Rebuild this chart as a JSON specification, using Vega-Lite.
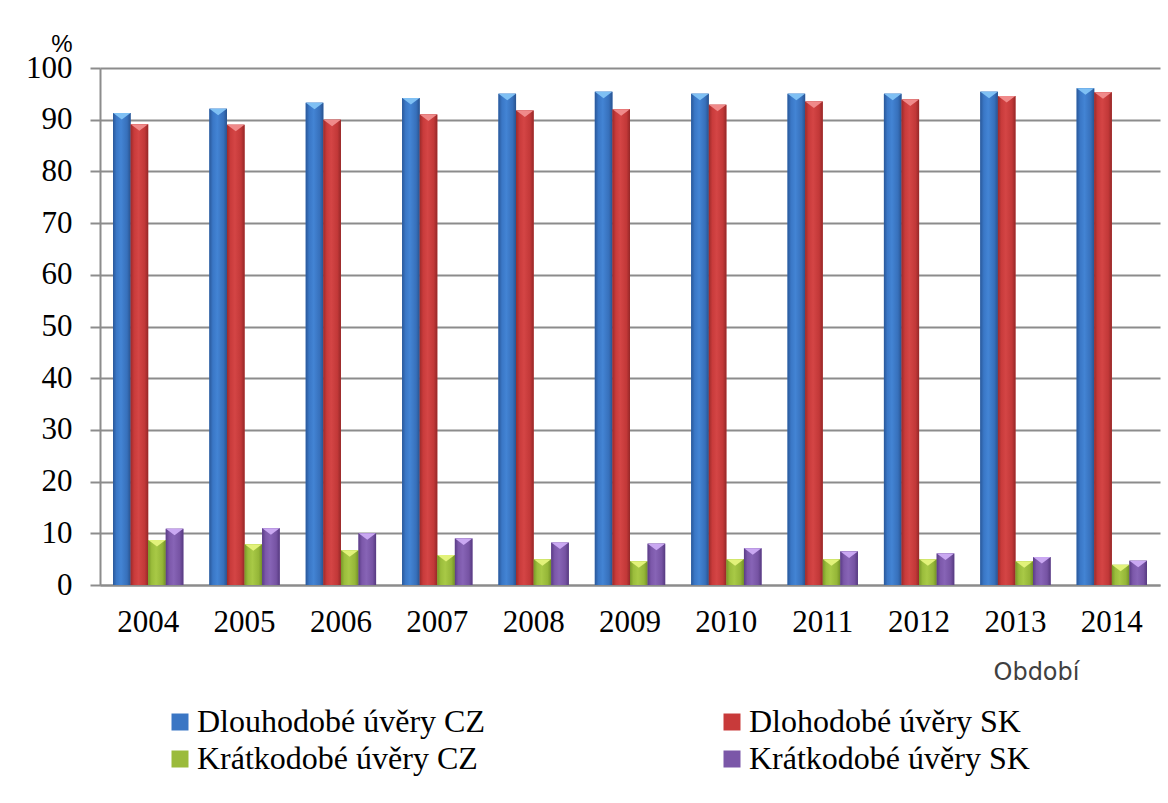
{
  "$schema": "https://vega.github.io/schema/vega-lite/v6.json",
  "width": 1060,
  "height": 517,
  "autosize": {"type": "none"},
  "padding": {"left": 100, "top": 68, "right": 8, "bottom": 218},
  "background": "white",
  "config": {
    "view": {"stroke": null},
    "font": "Liberation Serif",
    "axisY": {
      "domainColor": "#8c8c8c",
      "domainWidth": 2,
      "tickColor": "#8c8c8c",
      "tickWidth": 2,
      "tickSize": 10,
      "gridColor": "#8c8c8c",
      "gridWidth": 2,
      "labelFont": "Liberation Serif",
      "labelFontSize": 31,
      "labelColor": "#000000",
      "labelPadding": 18,
      "titleFont": "Liberation Sans",
      "titleFontSize": 24,
      "titleFontWeight": "normal",
      "titleColor": "#000000",
      "titleAngle": 0,
      "titleAlign": "right",
      "titleBaseline": "alphabetic",
      "titleX": -28,
      "titleY": -17
    },
    "axisX": {
      "labelAngle": 0,
      "ticks": false,
      "tickSize": 0,
      "domainColor": "#8c8c8c",
      "domainWidth": 2,
      "labelFont": "Liberation Serif",
      "labelFontSize": 31,
      "labelColor": "#000000",
      "labelBaseline": "alphabetic",
      "labelPadding": 46,
      "titleFont": "DejaVu Sans",
      "titleFontSize": 24,
      "titleFontWeight": "normal",
      "titleColor": "#404040",
      "titleAlign": "left",
      "titleBaseline": "alphabetic",
      "titleX": 893,
      "titleY": 94
    },
    "legend": {
      "labelFont": "Liberation Serif",
      "labelFontSize": 32,
      "labelColor": "#000000",
      "labelLimit": 0
    }
  },
  "data": {
    "values": [
      {"rok": "2004", "rada": "Dlouhodobé úvěry CZ", "hodnota": 91.3},
      {"rok": "2004", "rada": "Dlohodobé úvěry SK", "hodnota": 89.1},
      {"rok": "2004", "rada": "Krátkodobé úvěry CZ", "hodnota": 8.7},
      {"rok": "2004", "rada": "Krátkodobé úvěry SK", "hodnota": 10.9},
      {"rok": "2005", "rada": "Dlouhodobé úvěry CZ", "hodnota": 92.1},
      {"rok": "2005", "rada": "Dlohodobé úvěry SK", "hodnota": 89.0},
      {"rok": "2005", "rada": "Krátkodobé úvěry CZ", "hodnota": 7.9},
      {"rok": "2005", "rada": "Krátkodobé úvěry SK", "hodnota": 11.0},
      {"rok": "2006", "rada": "Dlouhodobé úvěry CZ", "hodnota": 93.3},
      {"rok": "2006", "rada": "Dlohodobé úvěry SK", "hodnota": 90.0},
      {"rok": "2006", "rada": "Krátkodobé úvěry CZ", "hodnota": 6.7},
      {"rok": "2006", "rada": "Krátkodobé úvěry SK", "hodnota": 10.0},
      {"rok": "2007", "rada": "Dlouhodobé úvěry CZ", "hodnota": 94.2},
      {"rok": "2007", "rada": "Dlohodobé úvěry SK", "hodnota": 91.0},
      {"rok": "2007", "rada": "Krátkodobé úvěry CZ", "hodnota": 5.8},
      {"rok": "2007", "rada": "Krátkodobé úvěry SK", "hodnota": 9.0},
      {"rok": "2008", "rada": "Dlouhodobé úvěry CZ", "hodnota": 95.0},
      {"rok": "2008", "rada": "Dlohodobé úvěry SK", "hodnota": 91.8},
      {"rok": "2008", "rada": "Krátkodobé úvěry CZ", "hodnota": 5.0},
      {"rok": "2008", "rada": "Krátkodobé úvěry SK", "hodnota": 8.2},
      {"rok": "2009", "rada": "Dlouhodobé úvěry CZ", "hodnota": 95.4},
      {"rok": "2009", "rada": "Dlohodobé úvěry SK", "hodnota": 92.0},
      {"rok": "2009", "rada": "Krátkodobé úvěry CZ", "hodnota": 4.6},
      {"rok": "2009", "rada": "Krátkodobé úvěry SK", "hodnota": 8.0},
      {"rok": "2010", "rada": "Dlouhodobé úvěry CZ", "hodnota": 95.0},
      {"rok": "2010", "rada": "Dlohodobé úvěry SK", "hodnota": 92.9},
      {"rok": "2010", "rada": "Krátkodobé úvěry CZ", "hodnota": 5.0},
      {"rok": "2010", "rada": "Krátkodobé úvěry SK", "hodnota": 7.1},
      {"rok": "2011", "rada": "Dlouhodobé úvěry CZ", "hodnota": 95.0},
      {"rok": "2011", "rada": "Dlohodobé úvěry SK", "hodnota": 93.5},
      {"rok": "2011", "rada": "Krátkodobé úvěry CZ", "hodnota": 5.0},
      {"rok": "2011", "rada": "Krátkodobé úvěry SK", "hodnota": 6.5},
      {"rok": "2012", "rada": "Dlouhodobé úvěry CZ", "hodnota": 95.0},
      {"rok": "2012", "rada": "Dlohodobé úvěry SK", "hodnota": 93.9},
      {"rok": "2012", "rada": "Krátkodobé úvěry CZ", "hodnota": 5.0},
      {"rok": "2012", "rada": "Krátkodobé úvěry SK", "hodnota": 6.1},
      {"rok": "2013", "rada": "Dlouhodobé úvěry CZ", "hodnota": 95.4},
      {"rok": "2013", "rada": "Dlohodobé úvěry SK", "hodnota": 94.6},
      {"rok": "2013", "rada": "Krátkodobé úvěry CZ", "hodnota": 4.6},
      {"rok": "2013", "rada": "Krátkodobé úvěry SK", "hodnota": 5.4},
      {"rok": "2014", "rada": "Dlouhodobé úvěry CZ", "hodnota": 96.1},
      {"rok": "2014", "rada": "Dlohodobé úvěry SK", "hodnota": 95.3},
      {"rok": "2014", "rada": "Krátkodobé úvěry CZ", "hodnota": 3.9},
      {"rok": "2014", "rada": "Krátkodobé úvěry SK", "hodnota": 4.7}
    ]
  },
  "encoding": {
    "x": {
      "field": "rok",
      "type": "nominal",
      "scale": {"paddingInner": 0.27, "paddingOuter": 0.135},
      "axis": {"title": "Období"}
    },
    "xOffset": {
      "field": "rada",
      "type": "nominal",
      "scale": {
        "domain": ["Dlouhodobé úvěry CZ", "Dlohodobé úvěry SK", "Krátkodobé úvěry CZ", "Krátkodobé úvěry SK"],
        "paddingInner": 0,
        "paddingOuter": 0
      }
    },
    "y": {
      "field": "hodnota",
      "type": "quantitative",
      "scale": {"domain": [0, 100], "nice": false},
      "axis": {
        "title": "%",
        "values": [0, 10, 20, 30, 40, 50, 60, 70, 80, 90, 100]
      }
    }
  },
  "layer": [
    {
      "mark": {"type": "bar"},
      "encoding": {
        "color": {
          "field": "rada",
          "type": "nominal",
          "scale": {
            "domain": ["Dlouhodobé úvěry CZ", "Dlohodobé úvěry SK", "Krátkodobé úvěry CZ", "Krátkodobé úvěry SK"],
            "range": ["#3a76c4", "#c83a3a", "#9bbb3b", "#7b57a8"]
          },
          "legend": {
            "title": null,
            "orient": "none",
            "legendX": 64,
            "legendY": 638,
            "direction": "horizontal",
            "columns": 2,
            "columnPadding": 231,
            "rowPadding": 5,
            "padding": 0,
            "symbolType": "square",
            "symbolSize": 289,
            "symbolStrokeWidth": 0,
            "labelOffset": 1
          }
        }
      }
    },
    {
      "transform": [{"filter": "datum.rada === 'Dlouhodobé úvěry CZ'"}],
      "mark": {
        "type": "bar",
        "fill": {
          "gradient": "linear", "x1": 0, "x2": 1, "y1": 0, "y2": 0,
          "stops": [
            {"offset": 0, "color": "#2a5899"},
            {"offset": 0.2, "color": "#3a77c6"},
            {"offset": 0.45, "color": "#4384d4"},
            {"offset": 0.8, "color": "#3770bb"},
            {"offset": 1, "color": "#29538f"}
          ]
        }
      }
    },
    {
      "transform": [{"filter": "datum.rada === 'Dlohodobé úvěry SK'"}],
      "mark": {
        "type": "bar",
        "fill": {
          "gradient": "linear", "x1": 0, "x2": 1, "y1": 0, "y2": 0,
          "stops": [
            {"offset": 0, "color": "#9c2a2a"},
            {"offset": 0.2, "color": "#c93b3b"},
            {"offset": 0.45, "color": "#d44545"},
            {"offset": 0.8, "color": "#c23838"},
            {"offset": 1, "color": "#952828"}
          ]
        }
      }
    },
    {
      "transform": [{"filter": "datum.rada === 'Krátkodobé úvěry CZ'"}],
      "mark": {
        "type": "bar",
        "fill": {
          "gradient": "linear", "x1": 0, "x2": 1, "y1": 0, "y2": 0,
          "stops": [
            {"offset": 0, "color": "#789828"},
            {"offset": 0.2, "color": "#9bbd3c"},
            {"offset": 0.45, "color": "#a8c946"},
            {"offset": 0.8, "color": "#95b638"},
            {"offset": 1, "color": "#729026"}
          ]
        }
      }
    },
    {
      "transform": [{"filter": "datum.rada === 'Krátkodobé úvěry SK'"}],
      "mark": {
        "type": "bar",
        "fill": {
          "gradient": "linear", "x1": 0, "x2": 1, "y1": 0, "y2": 0,
          "stops": [
            {"offset": 0, "color": "#5a3c86"},
            {"offset": 0.2, "color": "#7c58aa"},
            {"offset": 0.45, "color": "#8764b6"},
            {"offset": 0.8, "color": "#7653a3"},
            {"offset": 1, "color": "#563a80"}
          ]
        }
      }
    },
    {
      "mark": {
        "type": "point",
        "filled": true,
        "opacity": 1,
        "strokeWidth": 0,
        "shape": "M-1,0L1,0L0,0.75Z",
        "size": 300
      },
      "encoding": {
        "fill": {
          "field": "rada",
          "type": "nominal",
          "scale": {
            "domain": ["Dlouhodobé úvěry CZ", "Dlohodobé úvěry SK", "Krátkodobé úvěry CZ", "Krátkodobé úvěry SK"],
            "range": ["#7fc0f4", "#f08a8a", "#e2f27a", "#caa8f2"]
          },
          "legend": null
        }
      }
    }
  ]
}
